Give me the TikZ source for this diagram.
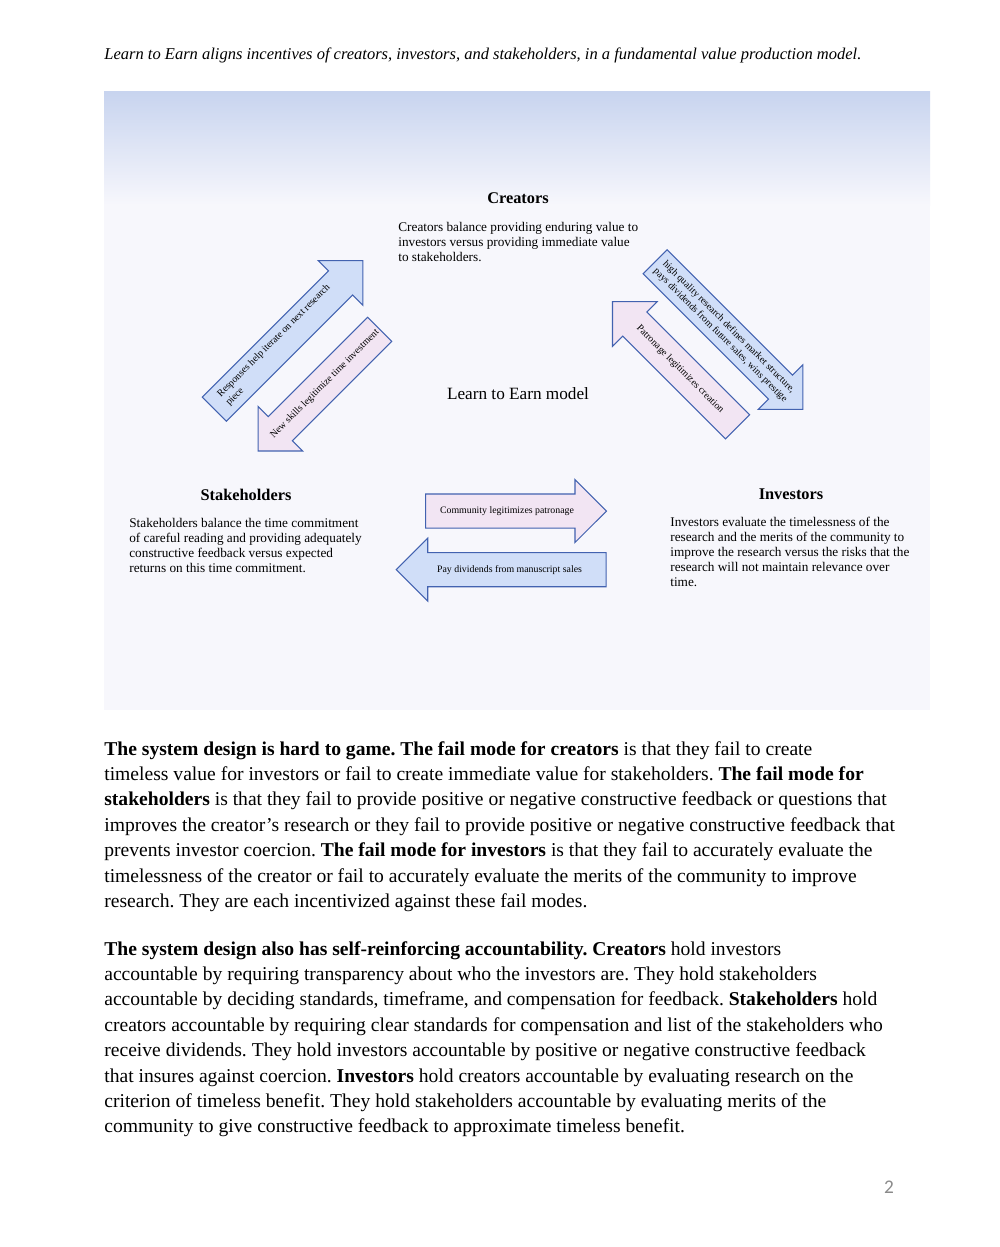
\documentclass[tikz,border=0pt]{standalone}
\usepackage{fontspec}
\setmainfont{Liberation Serif}
\newfontfamily\pagenumfont{Carlito}
\usetikzlibrary{positioning,calc,shapes.arrows}
\definecolor{panelsky}{HTML}{C8D4EF}
\definecolor{panelmist}{HTML}{F7F7FC}
\definecolor{arrblue}{HTML}{D0DEF8}
\definecolor{arrpink}{HTML}{F2E5F3}
\definecolor{arrline}{HTML}{4262B0}
\definecolor{pagegray}{HTML}{8A8A8A}
\frenchspacing
\tikzset{
  heading/.style ={font=\fontsize{9.3}{11}\selectfont\bfseries, inner sep=0pt, anchor=base},
  blurb/.style   ={font=\fontsize{7.55}{8.55}\selectfont, align=left, inner sep=0pt, anchor=north west},
  fatarr/.style  ={single arrow, draw=arrline, fill=#1, line width=0.6pt, single arrow tip angle=90,
                   single arrow head extend=0.29cm, inner xsep=0pt, inner ysep=0.33cm, anchor=tail},
  arrlbl/.style  ={font=\fontsize{5.6}{6.8}\selectfont, inner sep=0pt, align=center},
  bodytext/.style={font=\fontsize{11.15}{14.46}\selectfont, align=left, inner sep=0pt, anchor=north west},
}
\begin{document}
\begin{tikzpicture}[x=0.02cm, y=-0.02cm]
\useasboundingbox (0,0) rectangle (1000,1247);
\fill[white] (0,0) rectangle (1000,1247);

\node[font=\fontsize{9.4}{12}\selectfont\itshape, inner sep=0pt, anchor=base west] (cap) at (104,60)
  {Learn to Earn aligns incentives of creators, investors, and stakeholders, in a fundamental value production model.};

% panel
\shade[top color=panelsky, bottom color=panelmist] (104,92) rectangle (930,205);
\fill[panelmist] (104,205) rectangle (930,710);

% the three parties
\node[heading] (cre) at (518,203) {Creators};
\node[blurb] (creb) at (398,222) {Creators balance providing enduring value to\\investors versus providing immediate value\\to stakeholders.};
\node[heading] (stk) at (246,500) {Stakeholders};
\node[blurb] (stkb) at (129,518) {Stakeholders balance the time commitment\\of careful reading and providing adequately\\constructive feedback versus expected\\returns on this time commitment.};
\node[heading] (inv) at (791,499) {Investors};
\node[blurb] (invb) at (670,517) {Investors evaluate the timelessness of the\\research and the merits of the community to\\improve the research versus the risks that the\\research will not maintain relevance over\\time.};
\node[font=\fontsize{9.8}{11}\selectfont, inner sep=0pt, anchor=base] (model) at (518,399) {Learn to Earn model};

% block arrows
\node[fatarr=arrblue, rotate=45, minimum height=4.2cm] (resp) at (214,409.5) {};
\node[fatarr=arrpink, rotate=225, minimum height=3.44cm] (skill) at (380,329) {};
\node[fatarr=arrblue, rotate=-45, minimum height=4.18cm] (qual) at (654.7,261.3) {};
\node[fatarr=arrpink, rotate=135, minimum height=3.54cm] (patr) at (738,427.2) {};
\node[fatarr=arrpink, minimum height=3.62cm] (comm) at (425,511) {};
\node[fatarr=arrblue, rotate=180, minimum height=4.2cm] (divi) at (606.7,569.7) {};

\node[arrlbl, rotate=45, align=left] (respl) at ($(resp.tail)!0.43!(resp.tip)$) {Responses help iterate on next research\\piece};
\node[arrlbl, rotate=45] (skilll) at ($(skill.tail)!0.45!(skill.tip)$) {New skills legitimize time investment};
\node[arrlbl, rotate=-45] (quall) at ($(qual.tail)!0.47!(qual.tip)$) {high quality research defines market structure,\\pays dividends from future sales, wins prestige};
\node[arrlbl, rotate=-45] (patrl) at ($(patr.tail)!0.46!(patr.tip)$) {Patronage legitimizes creation};
\node[arrlbl] (comml) at ($(comm.tail)!0.45!(comm.tip)$) {Community legitimizes patronage};
\node[arrlbl] (divil) at ($(divi.tail)!0.46!(divi.tip)$) {Pay dividends from manuscript sales};

% body text
\node[bodytext] (para1) at (104,741) {\textbf{The system design is hard to game. The fail mode for creators} is that they fail to create\\
timeless value for investors or fail to create immediate value for stakeholders. \textbf{The fail mode for}\\
\textbf{stakeholders} is that they fail to provide positive or negative constructive feedback or questions that\\
improves the creator’s research or they fail to provide positive or negative constructive feedback that\\
prevents investor coercion. \textbf{The fail mode for investors} is that they fail to accurately evaluate the\\
timelessness of the creator or fail to accurately evaluate the merits of the community to improve\\
research. They are each incentivized against these fail modes.};
\node[bodytext] (para2) at (104,941) {\textbf{The system design also has self-reinforcing accountability. Creators} hold investors\\
accountable by requiring transparency about who the investors are. They hold stakeholders\\
accountable by deciding standards, timeframe, and compensation for feedback. \textbf{Stakeholders} hold\\
creators accountable by requiring clear standards for compensation and list of the stakeholders who\\
receive dividends. They hold investors accountable by positive or negative constructive feedback\\
that insures against coercion. \textbf{Investors} hold creators accountable by evaluating research on the\\
criterion of timeless benefit. They hold stakeholders accountable by evaluating merits of the\\
community to give constructive feedback to approximate timeless benefit.};

\node[font=\pagenumfont\fontsize{11}{13}\selectfont, text=pagegray, inner sep=0pt, anchor=base] (pg) at (889,1193) {2};
\end{tikzpicture}
\end{document}
